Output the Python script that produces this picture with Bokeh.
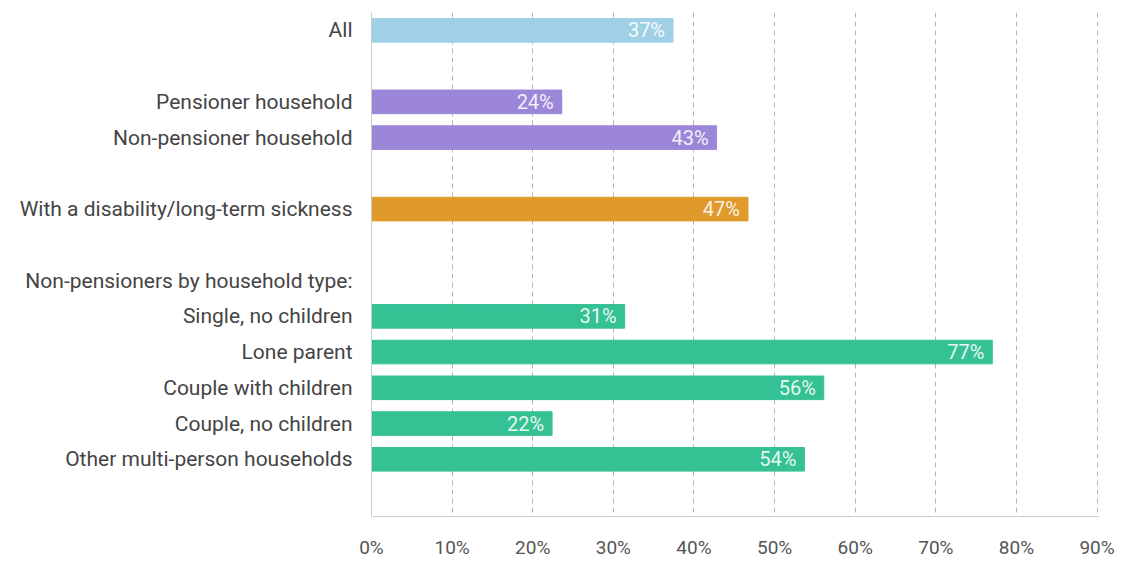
from bokeh.plotting import figure
from bokeh.models import Range1d, FixedTicker, ColumnDataSource
from bokeh.core.properties import value
from bokeh.embed import file_html
from bokeh.resources import INLINE

# Data
categories = ["All", "Pensioner household", "Non-pensioner household",
              "With a disability/long-term sickness",
              "Single, no children", "Lone parent", "Couple with children",
              "Couple, no children", "Other multi-person households"]
rows = [0, 2, 3, 5, 8, 9, 10, 11, 12]
values = [37.4, 23.6, 42.8, 46.7, 31.4, 77.0, 56.1, 22.4, 53.7]
value_labels = ["37%", "24%", "43%", "47%", "31%", "77%", "56%", "22%", "54%"]
group_colors = ["#9fd0e6", "#9c86d7", "#9c86d7", "#e09a2c",
                "#34c194", "#34c194", "#34c194", "#34c194", "#34c194"]
header_label = "Non-pensioners by household type:"
header_row = 7
x_ticks = [0, 10, 20, 30, 40, 50, 60, 70, 80, 90]

FONT = "Roboto"

src = ColumnDataSource(dict(y=rows, v=values, lab=value_labels, c=group_colors))

p = figure(width=1128, height=561, output_backend="svg", toolbar_location=None,
           x_range=Range1d(0, 90.3), y_range=Range1d(13.6, -0.5),
           min_border_left=371, min_border_right=29, min_border_top=12,
           min_border_bottom=36)
p.outline_line_color = None

p.hbar(y="y", left=0, right="v", height=0.66, color="c", source=src)
p.text(x="v", y="y", text="lab", source=src, x_offset=-8, text_align="right",
       text_baseline="middle", text_color="white", text_alpha=0.9,
       text_font=value(FONT), text_font_size="20px")

# axes
p.xaxis.ticker = FixedTicker(ticks=x_ticks)
p.xaxis.major_label_overrides = {t: f"{t}%" for t in x_ticks}
p.xaxis.major_tick_line_color = None
p.xaxis.minor_tick_line_color = None
p.xaxis.axis_line_color = "#cccccc"
p.xaxis.major_label_text_font = FONT
p.xaxis.major_label_text_font_size = "19px"
p.xaxis.major_label_text_color = "#555555"
p.xaxis.major_label_standoff = 13

yt = rows + [header_row]
ylabels = dict(zip(rows, categories))
ylabels[header_row] = header_label
p.yaxis.ticker = FixedTicker(ticks=yt)
p.yaxis.major_label_overrides = ylabels
p.yaxis.major_tick_line_color = None
p.yaxis.minor_tick_line_color = None
p.yaxis.axis_line_color = "#cccccc"
p.yaxis.major_label_text_font = FONT
p.yaxis.major_label_text_font_size = "21px"
p.yaxis.major_label_text_color = "#444444"
p.yaxis.major_label_standoff = 13

p.ygrid.grid_line_color = None
p.xgrid.ticker = FixedTicker(ticks=x_ticks[1:])
p.xgrid.grid_line_color = "#b5b5b5"
p.xgrid.grid_line_dash = "5 4"
p.xgrid.grid_line_width = 1

open("out.html", "w").write(file_html(p, INLINE))
